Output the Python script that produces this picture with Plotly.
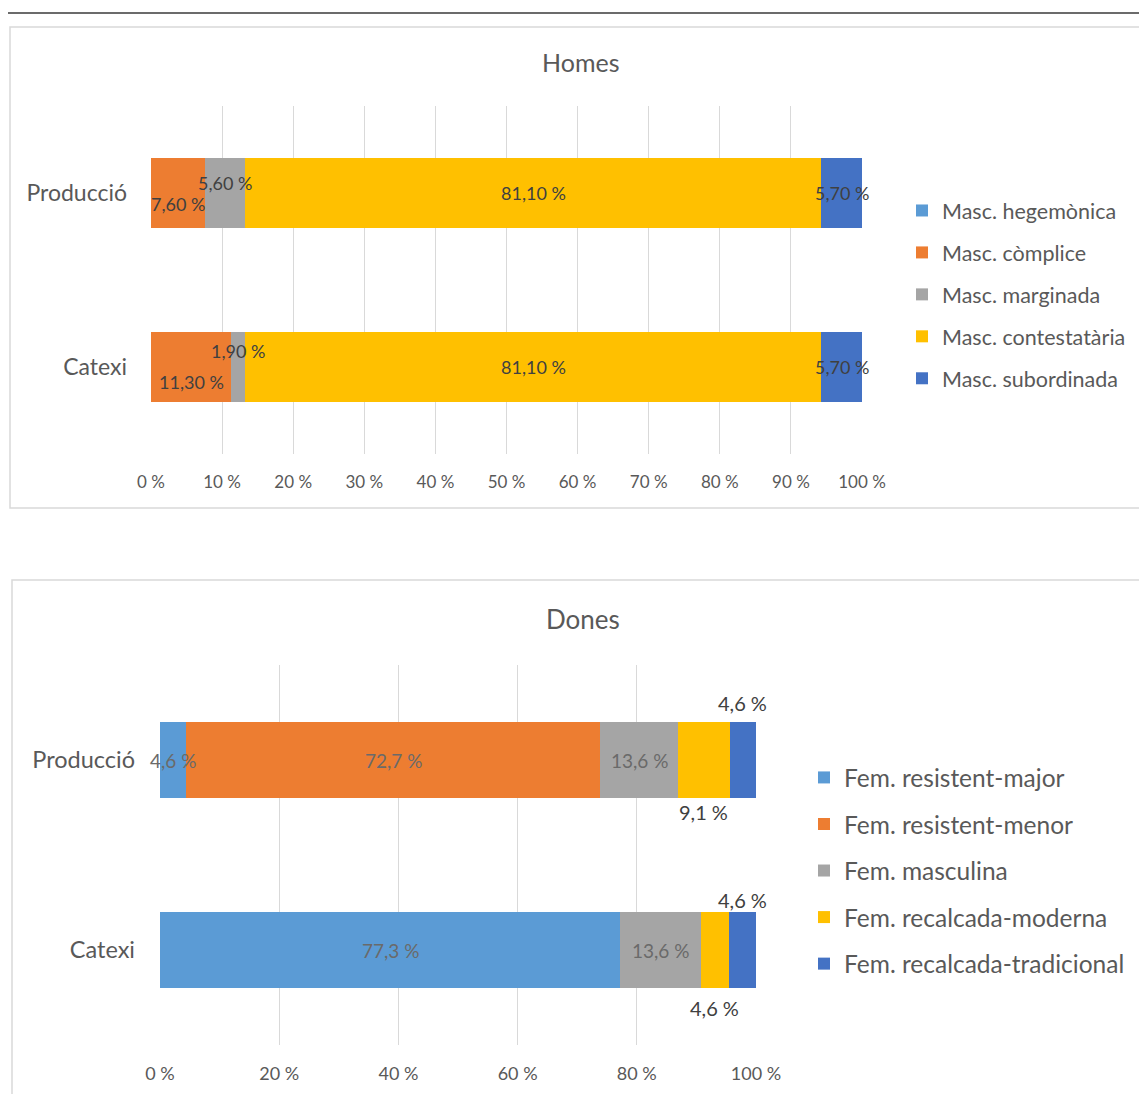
import plotly.graph_objects as go

# ---------------- DATA ----------------
categories = ["Producció", "Catexi"]

men_labels = ["Masc. hegemònica", "Masc. còmplice", "Masc. marginada",
              "Masc. contestatària", "Masc. subordinada"]
men_hegemonica = [0.0, 0.0]
men_complice = [7.6, 11.3]
men_marginada = [5.6, 1.9]
men_contestataria = [81.1, 81.1]
men_subordinada = [5.7, 5.7]

women_labels = ["Fem. resistent-major", "Fem. resistent-menor", "Fem. masculina",
                "Fem. recalcada-moderna", "Fem. recalcada-tradicional"]
women_resistent_major = [4.6, 77.3]
women_resistent_menor = [72.7, 0.0]
women_masculina = [13.6, 13.6]
women_recalcada_moderna = [9.1, 4.6]
women_recalcada_tradicional = [4.6, 4.6]

x_ticks_men = [0, 10, 20, 30, 40, 50, 60, 70, 80, 90, 100]
x_ticks_women = [0, 20, 40, 60, 80, 100]

# ---------------- STYLE ----------------
W, H = 1139, 1094
colors = ["#5B9BD5", "#ED7D31", "#A5A5A5", "#FFC000", "#4472C4"]
FONT = "Lato, 'Open Sans', sans-serif"
TXT = "#595959"

# vertical offsets (px) of data labels, per panel -> (series idx, category idx)
men_label_shift = {(1, 0): -11, (2, 0): 10, (1, 1): -15, (2, 1): 16}
women_label_shift = {(3, 0): -52, (4, 0): 57, (3, 1): -58, (4, 1): 50}
women_outside = {(3, 0), (4, 0), (3, 1), (4, 1)}


def px_x(p):
    return p / W


def px_y(p):
    return 1 - p / H


men_series = [men_hegemonica, men_complice, men_marginada, men_contestataria, men_subordinada]
women_series = [women_resistent_major, women_resistent_menor, women_masculina,
                women_recalcada_moderna, women_recalcada_tradicional]

fig = go.Figure()

for i, (name, vals) in enumerate(zip(men_labels, men_series)):
    fig.add_trace(go.Bar(
        y=categories, x=vals, name=name, orientation="h",
        marker=dict(color=colors[i], line=dict(width=0)),
        xaxis="x", yaxis="y", legend="legend", legendgroup="m%d" % i,
    ))

for i, (name, vals) in enumerate(zip(women_labels, women_series)):
    fig.add_trace(go.Bar(
        y=categories, x=vals, name=name, orientation="h",
        marker=dict(color=colors[i], line=dict(width=0)),
        xaxis="x2", yaxis="y2", legend="legend2", legendgroup="w%d" % i,
    ))

annotations = []


def add_labels(series, xref, yref, decimals, shifts, size_in, color_in,
               outside=set(), size_out=20, color_out="#404040"):
    for c, cat in enumerate(categories):
        total = sum(s[c] for s in series)
        cum = 0.0
        for i, s in enumerate(series):
            v = s[c]
            start = cum / total * 100
            cum += v
            end = cum / total * 100
            if v <= 0:
                continue
            txt = ("{:.%df}" % decimals).format(v).replace(".", ",") + " %"
            is_out = (i, c) in outside
            annotations.append(dict(
                x=(start + end) / 2, y=cat, xref=xref, yref=yref,
                xanchor="center", yanchor="middle",
                text=txt, showarrow=False,
                yshift=shifts.get((i, c), 0),
                font=dict(family=FONT, size=size_out if is_out else size_in,
                          color=color_out if is_out else color_in),
            ))


add_labels(men_series, "x", "y", 2, men_label_shift, 18, "#404040")
add_labels(women_series, "x2", "y2", 1, women_label_shift, 19, "#6a6a6a",
           outside=women_outside, size_out=20, color_out="#404040")

# titles
annotations.append(dict(x=px_x(580), y=px_y(62), xref="paper", yref="paper", text="Homes",
                        xanchor="center", yanchor="middle",
                        showarrow=False, font=dict(family=FONT, size=25, color=TXT)))
annotations.append(dict(x=px_x(583), y=px_y(619), xref="paper", yref="paper", text="Dones",
                        xanchor="center", yanchor="middle",
                        showarrow=False, font=dict(family=FONT, size=26, color=TXT)))

shapes = [
    dict(type="line", xref="paper", yref="paper", x0=px_x(8), x1=1.0, y0=px_y(13), y1=px_y(13),
         line=dict(color="#3a3a3a", width=1.5)),
    dict(type="rect", xref="paper", yref="paper", x0=px_x(10), x1=px_x(1145), y0=px_y(508), y1=px_y(27),
         line=dict(color="#d9d9d9", width=1.5)),
    dict(type="rect", xref="paper", yref="paper", x0=px_x(12), x1=px_x(1145), y0=px_y(1100), y1=px_y(580),
         line=dict(color="#d9d9d9", width=1.5)),
]

axis_common = dict(range=[0, 100], showgrid=True, gridcolor="#d9d9d9", gridwidth=1,
                   zeroline=False, showline=False, fixedrange=True,
                   ticks="outside", tickcolor="rgba(0,0,0,0)", tickmode="array")


def pct_labels(vals):
    return ["%d %%" % v for v in vals]


fig.update_layout(
    width=W, height=H,
    margin=dict(l=0, r=0, t=0, b=0, autoexpand=False),
    paper_bgcolor="white", plot_bgcolor="white",
    barmode="stack", barnorm="percent", bargap=0.6,
    showlegend=True,
    xaxis=dict(domain=[px_x(151), px_x(862)], anchor="y", tickvals=x_ticks_men,
               ticktext=pct_labels(x_ticks_men), ticklen=13,
               tickfont=dict(family=FONT, size=17, color=TXT), **axis_common),
    yaxis=dict(domain=[px_y(454), px_y(106)], anchor="x", categoryorder="array",
               categoryarray=categories[::-1], showgrid=False, zeroline=False,
               ticklabelstandoff=23, tickfont=dict(family=FONT, size=23, color=TXT)),
    xaxis2=dict(domain=[px_x(160), px_x(756)], anchor="y2", tickvals=x_ticks_women,
                ticktext=pct_labels(x_ticks_women), ticklen=12,
                tickfont=dict(family=FONT, size=18, color=TXT), **axis_common),
    yaxis2=dict(domain=[px_y(1045), px_y(665)], anchor="x2", categoryorder="array",
                categoryarray=categories[::-1], showgrid=False, zeroline=False,
                ticklabelstandoff=24, tickfont=dict(family=FONT, size=23.5, color=TXT)),
    legend=dict(x=px_x(902), y=px_y(190), xanchor="left", yanchor="top",
                font=dict(family=FONT, size=21.5, color=TXT), tracegroupgap=11,
                bgcolor="rgba(0,0,0,0)", itemclick=False),
    legend2=dict(x=px_x(804), y=px_y(755), xanchor="left", yanchor="top",
                 font=dict(family=FONT, size=24.5, color=TXT), tracegroupgap=11.7,
                 bgcolor="rgba(0,0,0,0)", itemclick=False),
    annotations=annotations,
    shapes=shapes,
)

fig.write_html("out.html")
